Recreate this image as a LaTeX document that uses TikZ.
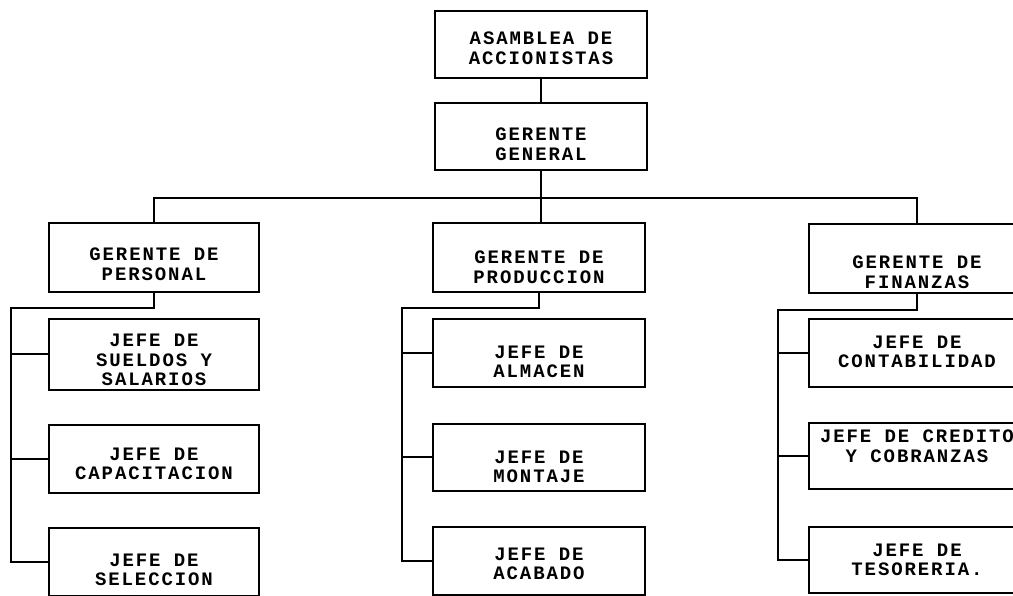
\documentclass[tikz,border=0pt]{standalone}
\usepackage{fontspec}
\setmonofont{Liberation Mono}[LetterSpace=10]
\usetikzlibrary{positioning}

\begin{document}
\begin{tikzpicture}[
  x=1pt, y=-1pt,
  box/.style={rectangle, draw, line width=2pt, inner sep=0pt},
  topbox/.style={box, minimum width=212pt, minimum height=67pt},
  deptbox/.style={box, minimum width=210pt, minimum height=69pt},
  subbox/.style={box, minimum width=210pt, minimum height=68pt},
  boxtext/.style={inner sep=0pt, align=center,
    font=\ttfamily\bfseries\fontsize{19}{19.5}\selectfont},
  link/.style={line width=2pt}
]
  \useasboundingbox (0,0) rectangle (1013,595);

  % top
  \node[topbox] (asam) at (541,44) {};
  \node[topbox] (gg)   at (541,136) {};

  % gerentes
  \node[deptbox] (gp)  at (154,257) {};
  \node[deptbox, minimum width=212pt] (gpr) at (539,257) {};
  \node[deptbox, minimum width=216pt] (gf)  at (917,258) {};

  % jefes
  \node[subbox, minimum height=71pt] (ss)  at (154,354) {};
  \node[subbox] (cap) at (154,459) {};
  \node[subbox] (sel) at (154,562) {};

  \node[subbox, minimum width=212pt] (alm) at (539,353) {};
  \node[subbox, minimum width=212pt, minimum height=67pt] (mon) at (539,457) {};
  \node[subbox, minimum width=212pt] (aca) at (539,561) {};

  \node[subbox, minimum width=216pt] (con) at (917,353) {};
  \node[subbox, minimum width=216pt, minimum height=66pt] (cre) at (917,456) {};
  \node[subbox, minimum width=216pt, minimum height=66pt] (tes) at (917,560) {};

  % texts (sit a little low in the boxes)
  \foreach \n/\dy/\t in {asam/-4/{ASAMBLEA DE\\ACCIONISTAS}, gg/-8/{GERENTE\\GENERAL},
      gp/-7/{GERENTE DE\\PERSONAL}, gpr/-10/{GERENTE DE\\PRODUCCION}, gf/-14/{GERENTE DE\\FINANZAS},
      ss/-6/{JEFE DE\\SUELDOS Y\\SALARIOS}, cap/-5/{JEFE DE\\CAPACITACION}, sel/-8/{JEFE DE\\SELECCION},
      alm/-9/{JEFE DE\\ALMACEN}, mon/-10/{JEFE DE\\MONTAJE}, aca/-3/{JEFE DE\\ACABADO},
      con/1/{JEFE DE\\CONTABILIDAD}, cre/10/{JEFE DE CREDITO\\Y COBRANZAS}, tes/0/{JEFE DE\\TESORERIA.}}{
    \node[boxtext] (\n-t) at ([yshift=\dy]\n.center) {\t};
  }

  \coordinate (bus) at (541,198);
  \coordinate (tp) at (11,308);
  \coordinate (tpr) at (402,308);
  \coordinate (tf) at (778,310);

  \draw[link] (asam.south) -- (gg.south |- asam.south) -- (gg.north);
  \draw[link] (gg.south) -- (gpr.north -| gg.south);
  \draw[link] (gp.north) -- (gp.north |- bus) -- (gf.north |- bus) -- (gf.north);

  \foreach \boss/\trunk/\last in {gp/tp/sel, gpr/tpr/aca, gf/tf/tes}{
    \draw[link] (\boss.south) |- (\trunk) -- (\trunk |- \last.west) -- (\last.west);
  }
  \foreach \trunk/\sub in {tp/ss, tp/cap, tpr/alm, tpr/mon, tf/con, tf/cre}{
    \draw[link] (\trunk |- \sub.west) -- (\sub.west);
  }
\end{tikzpicture}
\end{document}
